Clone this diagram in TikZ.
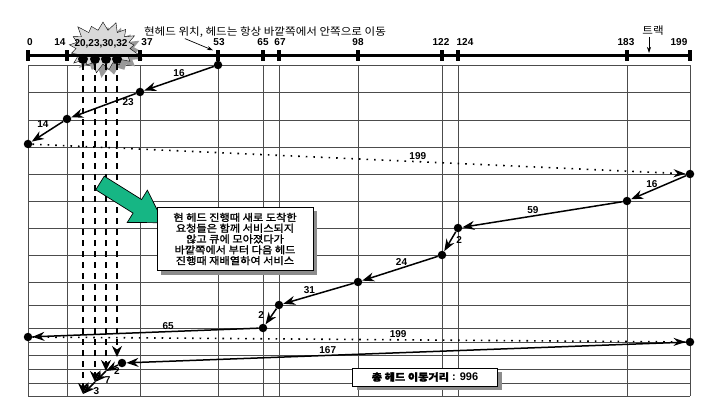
\documentclass[tikz,border=0pt]{standalone}
\usepackage{fontspec}
\setsansfont{Liberation Sans}
\newfontfamily\kr[FakeStretch=1.1]{Noto Sans CJK KR}
\newfontfamily\krb[FakeBold=1.5,FakeStretch=1.12]{Noto Sans CJK KR}
\usepackage{tikz}
\usetikzlibrary{arrows.meta,shapes.symbols,shadows}
\definecolor{callgreen}{RGB}{22,182,132}

\begin{document}
\begin{tikzpicture}[x=1pt,y=-1pt,font=\sffamily\bfseries\fontsize{10}{11}\selectfont]
    \tikzset{dot/.style={circle,fill=black,inner sep=0pt,minimum size=8.5pt},
      tickmark/.style={rectangle,fill=black,inner sep=0pt,minimum width=3.5pt,minimum height=11pt},
      gridln/.style={draw=black!70,line width=0.9pt},
      mv/.style={-{Stealth[length=12pt,width=9pt]},line width=1.5pt},
      jump/.style={-{Stealth[length=12pt,width=8pt]},line width=1.6pt,dash pattern=on 1.6pt off 6pt},
      req/.style={-{Stealth[length=11pt,width=10pt]},line width=2.2pt,dash pattern=on 6pt off 5pt},
      lbl/.style={inner sep=1.5pt},
      note/.style={font=\kr\fontsize{10.5}{12}\selectfont,inner sep=1pt},
      tip/.style={-{Stealth[length=6pt,width=4pt]},line width=0.7pt},
      boxed/.style={draw,fill=white,line width=0.7pt,
        drop shadow={shadow xshift=4pt,shadow yshift=-4pt,fill=black!45,opacity=1}}}
    \useasboundingbox (0,0) rectangle (704,414);
    \foreach \y in {65,92,120,147,174,201,228,255,282,305,328,342,355,369,383,396}
      \draw[gridln] (28,\y) -- (690,\y);
    \foreach \x in {28,67,140,218,263,279,358,442,458,627,690}
      \draw[gridln] (\x,65) -- (\x,396);
    \node[starburst,starburst point height=11pt,fill=black!40,minimum width=76pt,minimum height=56pt] (burstsh) at (108,52) {};
    \node[starburst,starburst point height=11pt,draw,fill=black!15,minimum width=76pt,minimum height=56pt] (burst) at (103,47) {};
    \node (reqs) at (101,44) {20,23,30,32};
    \foreach \tr/\x/\dx in {0/28/2,14/67/-7,37/140/7,53/218/1,65/263/0,67/279/1,98/358/0,
      122/442/-1,124/458/7,183/627/-1,199/690/-11}
      \node[tickmark] (t\tr) at (\x,56) {};
    \draw[line width=3pt] (t0.center) -- (t199.center);
    \foreach \tr/\x/\dx in {0/28/2,14/67/-7,37/140/7,53/218/1,65/263/0,67/279/1,98/358/0,
      122/442/-1,124/458/7,183/627/-1,199/690/-11}
      \node[above=1pt,xshift=\dx pt] at (t\tr.north) {\tr};
    \foreach \r/\x in {20/83,23/95,30/106,32/117}
      \node[dot,minimum size=10pt] (a\r) at (\x,59) {};
    \node[note] (headnote) at (265,32) {현헤드 위치, 헤드는 항상 바깥쪽에서 안쪽으로 이동};
    \draw[tip] ([xshift=42pt]headnote.south west) -- ([xshift=-5pt]t53.north);
    \node[note] (trk) at (653,31) {트랙};
    \coordinate (trkpt) at (649,53);
    \draw[tip] (trk.south -| trkpt) -- (trkpt);
    \node[dot] (p53) at (218,65) {};
    \node[dot] (p37) at (140,92) {};
    \node[dot] (p14) at (67,119) {};
    \node[dot] (p0a) at (28,144) {};
    \node[dot] (p199a) at (690,174) {};
    \node[dot] (p183) at (627,201) {};
    \node[dot] (p124) at (458,228) {};
    \node[dot] (p122) at (442,255) {};
    \node[dot] (p98) at (358,282) {};
    \node[dot] (p67) at (279,305) {};
    \node[dot] (p65) at (263,328) {};
    \node[dot] (p0b) at (28,337) {};
    \node[dot] (p199b) at (690,342) {};
    \node[dot] (p32) at (122,363) {};
    \coordinate (e32) at (117,357);
    \coordinate (q30) at (106,371);
    \coordinate (q23) at (95,382);
    \coordinate (q20) at (83,394);
    \path[req]
    (a32) edge (e32)
    (a30) edge (q30)
    (a23) edge (q23)
    (a20) edge (q20)
    ;
    \path[jump]
    (p0a) edge node[lbl,above,pos=.59] {199} (p199a)
    (p0b) edge node[lbl,above,pos=.56] {199} (p199b)
    ;
    \path[mv]
    (p53) edge node[lbl,above] {16} (p37)
    (p37) edge node[lbl,below,pos=.12] {23} (p14)
    (p14) edge node[lbl,above left,pos=.4] {14} (p0a)
    (p199a) edge node[lbl,above,pos=.62] {16} (p183)
    (p183) edge node[lbl,above,pos=.56] {59} (p124)
    (p124) edge node[lbl,right=3pt,pos=.4] {2} (p122)
    (p122) edge node[lbl,above,pos=.48] {24} (p98)
    (p98) edge node[lbl,above,pos=.63] {31} (p67)
    (p67) edge node[lbl,left=6pt,pos=.4] {2} (p65)
    (p65) edge node[lbl,above,pos=.4] {65} (p0b)
    (p199b) edge node[lbl,above,pos=.64] {167} (p32)
    (p32) edge node[lbl,below,pos=.1] {2} (q30)
    (q30) edge node[lbl,below right,pos=.3] {7} (q23)
    (q23) edge node[lbl,below right,pos=.3] {3} (q20)
    ;
    \begin{scope}[shift={(100,183)},rotate=-32]
      \draw[fill=callgreen,line width=0.7pt] (0,-8) -- (44,-8) -- (44,-19) -- (75,0) -- (44,19) -- (44,8) -- (0,8) -- cycle;
    \end{scope}
    \node[boxed,minimum width=156pt,minimum height=63pt,align=center,
      font=\krb\fontsize{10}{10.8}\selectfont] (expl) at (235,239)
      {현 헤드 진행때 새로 도착한\\요청들은 함께 서비스되지\\않고 큐에 모아졌다가\\바깥쪽에서 부터 다음 헤드\\진행때 재배열하여 서비스};
    \node[boxed,minimum width=145pt,minimum height=18pt,font=\sffamily\bfseries\fontsize{11}{12}\selectfont] (total) at (425,377)
      {{\krb\fontsize{10}{12}\selectfont 총 헤드 이동거리} : 996};
\end{tikzpicture}
\end{document}
